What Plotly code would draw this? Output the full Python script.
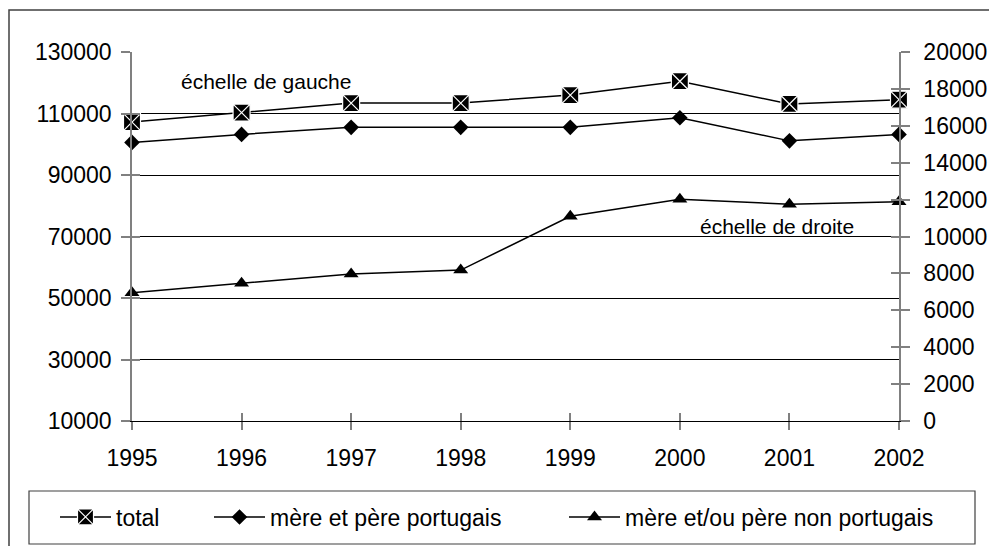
import plotly.graph_objects as go

years = [1995, 1996, 1997, 1998, 1999, 2000, 2001, 2002]
total = [107200, 110300, 113400, 113400, 116000, 120500, 113100, 114500]
pere_mere_portugais = [100600, 103200, 105500, 105500, 105500, 108600, 101100, 103200]
non_portugais = [6950, 7460, 7970, 8180, 11100, 12020, 11750, 11890]

left_ticks = [10000, 30000, 50000, 70000, 90000, 110000, 130000]
right_ticks = [0, 2000, 4000, 6000, 8000, 10000, 12000, 14000, 16000, 18000, 20000]

FONT = "Liberation Sans, Arial, sans-serif"
W, H = 997, 546
OFF = 8  # page body margin offset
# plot area in reference-picture pixels
RL, RR, RT, RB = 132, 899, 52, 421
L, R, T, B = RL - OFF, RR - OFF, RT - OFF, RB - OFF
pw, ph = R - L, B - T


def px(x):
    return (x - OFF - L) / pw


def py(y):
    return (B - (y - OFF)) / ph


fig = go.Figure()

fig.add_trace(go.Scatter(
    x=years, y=total, name="total", mode="lines+markers",
    line=dict(color="black", width=1.5),
    marker=dict(symbol="square-x", size=17, color="black", line=dict(color="white", width=1.2)),
    legend="legend", yaxis="y", cliponaxis=False))
fig.add_trace(go.Scatter(
    x=years, y=pere_mere_portugais, name="mère et père portugais", mode="lines+markers",
    line=dict(color="black", width=1.5),
    marker=dict(symbol="diamond", size=12, color="black"),
    legend="legend2", yaxis="y", cliponaxis=False))
fig.add_trace(go.Scatter(
    x=years, y=non_portugais, name="mère et/ou père non portugais", mode="lines+markers",
    line=dict(color="black", width=1.5),
    marker=dict(symbol="triangle-up", size=13, color="black"),
    legend="legend3", yaxis="y2", cliponaxis=False))

tickfont = dict(family=FONT, size=23, color="black")
axis_gray = "#808080"

legend_common = dict(orientation="h", yanchor="middle", y=py(517), xanchor="left",
                     bgcolor="rgba(0,0,0,0)", borderwidth=0, itemwidth=51,
                     font=dict(family=FONT, size=23, color="black"))

fig.update_layout(
    width=W, height=H,
    margin=dict(l=L, r=W - R, t=T, b=H - B, pad=0),
    paper_bgcolor="white", plot_bgcolor="white",
    font=dict(family=FONT, size=23, color="black"),
    xaxis=dict(range=[1995, 2002], tickvals=years, ticktext=[str(y) for y in years],
               showgrid=False, zeroline=False, showline=True, linecolor="black", linewidth=1,
               ticks="outside", ticklen=8, tickwidth=1.5, tickcolor=axis_gray,
               tickfont=tickfont, ticklabelstandoff=8),
    xaxis2=dict(range=[1995, 2002], tickvals=years, overlaying="x", anchor="y",
                showgrid=False, zeroline=False, showline=False, showticklabels=False,
                ticks="inside", ticklen=8, tickwidth=1.5, tickcolor=axis_gray),
    yaxis=dict(range=[10000, 130000], tickvals=left_ticks, ticktext=[str(v) for v in left_ticks],
               showgrid=True, gridcolor="black", gridwidth=1, zeroline=False,
               showline=True, linecolor=axis_gray, linewidth=1.5,
               ticks="outside", ticklen=9, tickwidth=1.5, tickcolor=axis_gray,
               tickfont=tickfont, ticklabelstandoff=5),
    yaxis2=dict(range=[0, 20000], tickvals=right_ticks, ticktext=[str(v) for v in right_ticks],
                overlaying="y", side="right", anchor="x",
                showgrid=False, zeroline=False,
                showline=True, linecolor=axis_gray, linewidth=1.5,
                ticks="outside", ticklen=9, tickwidth=1.5, tickcolor=axis_gray,
                tickfont=tickfont, ticklabelstandoff=9),
    yaxis3=dict(range=[10000, 130000], tickvals=left_ticks, overlaying="y", side="left", anchor="x",
                showgrid=False, zeroline=False, showline=False, showticklabels=False,
                ticks="inside", ticklen=8, tickwidth=1.5, tickcolor=axis_gray),
    yaxis4=dict(range=[0, 20000], tickvals=right_ticks, overlaying="y", side="right", anchor="x",
                showgrid=False, zeroline=False, showline=False, showticklabels=False,
                ticks="inside", ticklen=8, tickwidth=1.5, tickcolor=axis_gray),
    legend=dict(x=px(55), **legend_common),
    legend2=dict(x=px(209), **legend_common),
    legend3=dict(x=px(564), **legend_common),
    shapes=[
        # outer frame
        dict(type="rect", xref="paper", yref="paper", x0=px(9), x1=px(1020), y0=py(570), y1=py(10),
             line=dict(color="#404040", width=1.5), layer="below"),
        # legend box
        dict(type="rect", xref="paper", yref="paper", x0=px(29), x1=px(975), y0=py(544), y1=py(491),
             line=dict(color="#404040", width=1.2), layer="below"),
    ],
    annotations=[
        dict(text="échelle de gauche", xref="paper", yref="paper", x=px(266), y=py(81),
             xanchor="center", yanchor="middle", showarrow=False,
             font=dict(family=FONT, size=21, color="black")),
        dict(text="échelle de droite", xref="paper", yref="paper", x=px(777), y=py(226),
             xanchor="center", yanchor="middle", showarrow=False,
             font=dict(family=FONT, size=21, color="black")),
    ],
)

# invisible helper traces so the tick-crossing overlay axes render
fig.add_trace(go.Scatter(x=[1995], y=[10000], xaxis="x2", yaxis="y3", mode="markers",
                         marker=dict(opacity=0), showlegend=False, hoverinfo="skip"))
fig.add_trace(go.Scatter(x=[1995], y=[0], xaxis="x2", yaxis="y4", mode="markers",
                         marker=dict(opacity=0), showlegend=False, hoverinfo="skip"))

fig.write_html("out.html")
